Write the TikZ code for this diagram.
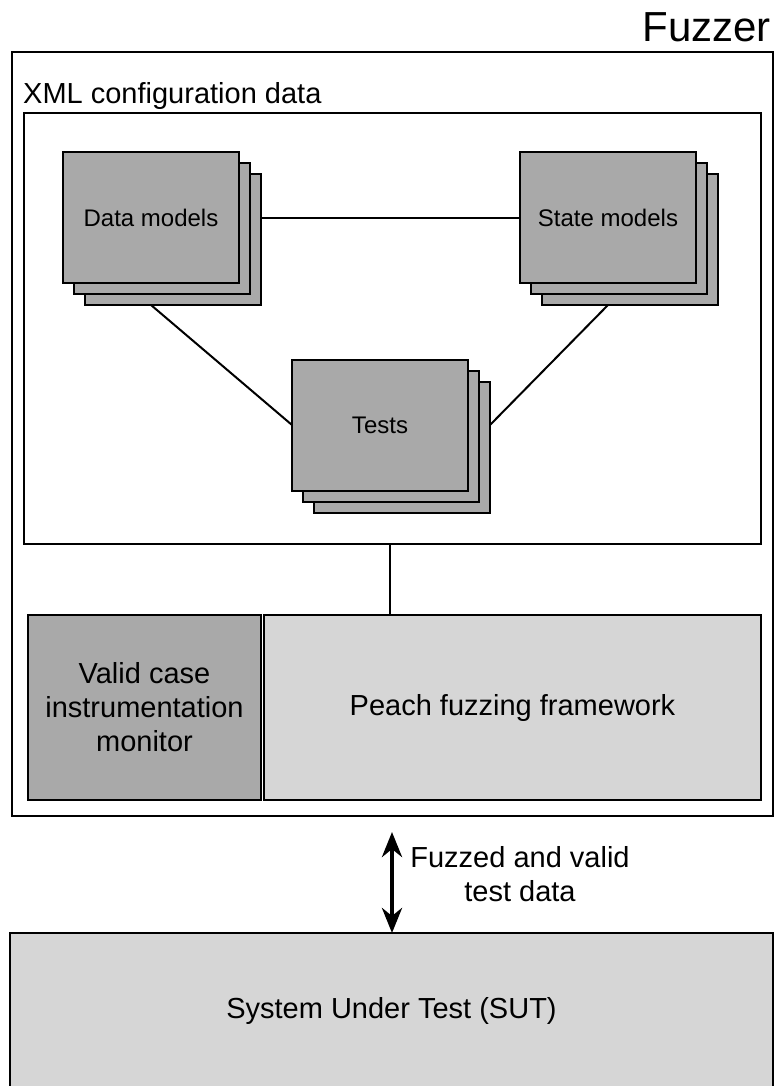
\documentclass[tikz,border=0pt]{standalone}
\usepackage{fontspec}
\setmainfont{Liberation Sans}
\usetikzlibrary{arrows.meta}

\definecolor{stackgray}{HTML}{A9A9A9}
\definecolor{lightgray}{HTML}{D6D6D6}

\tikzset{
  frame/.style={draw=black, line width=2pt, inner sep=0pt, outer sep=0pt},
  sheet/.style={frame, fill=stackgray, minimum width=176pt, minimum height=131pt,
                font=\fontsize{24}{28}\selectfont},
  blockdark/.style={frame, fill=stackgray, align=center,
                font=\fontsize{29}{34}\selectfont},
  blocklight/.style={frame, fill=lightgray, align=center,
                font=\fontsize{29}{34}\selectfont},
  link/.style={draw=black, line width=2pt},
  flowtip/.tip={Stealth[length=25pt,width=20pt,inset=8pt]},
  dataflow/.style={draw=black, line width=4.5pt, flowtip-flowtip},
}

\begin{document}
\begin{tikzpicture}[x=1pt, y=-1pt]
\useasboundingbox (0,0) rectangle (776,1086);

% Fuzzer enclosure and its title
\node[frame, minimum width=761pt, minimum height=764pt] (fuzzer) at (392.5,434) {};
\node[anchor=base east, inner sep=0pt, font=\fontsize{42}{48}\selectfont] (fuzzertitle) at (771,42) {Fuzzer};

% XML configuration area
\node[frame, minimum width=737pt, minimum height=431pt] (xml) at (392.5,328.5) {};
\node[anchor=base west, inner sep=0pt, font=\fontsize{29}{34}\selectfont] (xmllabel) at (23,104) {XML configuration data};

% Data models stack
\node[sheet] (dm3) at (173,239.5) {};
\node[sheet] (dm2) at (162,228.5) {};
\node[sheet] (dm)  at (151,217.5) {Data models};

% State models stack
\node[sheet] (sm3) at (630,239.5) {};
\node[sheet] (sm2) at (619,228.5) {};
\node[sheet] (sm)  at (608,217.5) {State models};

% Tests stack
\node[sheet] (ts3) at (402,447) {};
\node[sheet] (ts2) at (391,436) {};
\node[sheet] (ts)  at (380,425) {Tests};

% Connectors between the model stacks
\draw[link] (dm3.east |- dm.center) -- (sm.west);
\draw[link] (dm.south |- dm3.south) -- (ts.west);
\draw[link] (sm.south |- sm3.south) -- (ts3.east |- ts.center);

% Framework row
\node[blockdark, minimum width=233pt, minimum height=185pt] (monitor) at (144.5,707.5)
  {Valid case\\instrumentation\\monitor};
\node[blocklight, minimum width=497pt, minimum height=185pt] (peach) at (512.5,707.5)
  {Peach fuzzing framework};
\coordinate (tap) at (390,544);
\draw[link] (tap) -- (peach.north -| tap);

% System under test
\node[blocklight, minimum width=763pt, minimum height=155pt] (sut) at (391.5,1010.5)
  {System Under Test (SUT)};

% Bidirectional data exchange
\coordinate (arrtop) at (392,832);
\draw[dataflow] (arrtop) -- (sut.north -| arrtop);
\node[align=center, inner sep=0pt, font=\fontsize{29}{34}\selectfont, anchor=base]
  (flowlabel) at (520,901) {Fuzzed and valid\\test data};
\end{tikzpicture}
\end{document}
